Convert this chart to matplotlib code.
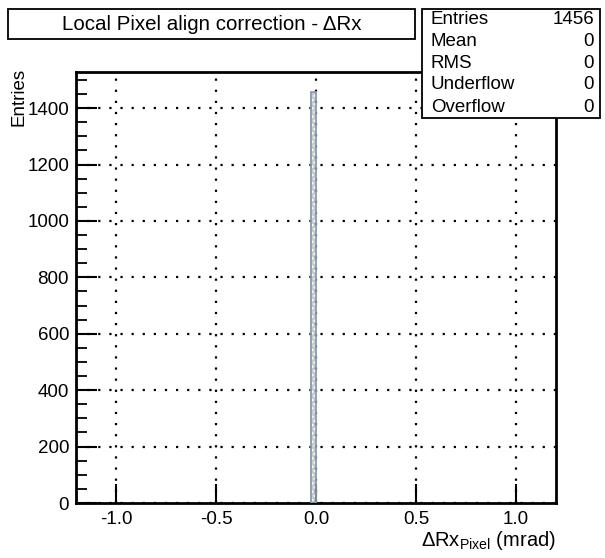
import numpy as np
import matplotlib
matplotlib.use('Agg')
import matplotlib.pyplot as plt
from matplotlib.patches import Rectangle
from matplotlib.ticker import MultipleLocator

plt.rcParams['font.family'] = ['Liberation Sans', 'DejaVu Sans']
plt.rcParams['mathtext.fontset'] = 'custom'
plt.rcParams['mathtext.rm'] = 'Liberation Sans'
plt.rcParams['mathtext.it'] = 'Liberation Sans:italic'

# histogram content (one filled bin)
bin_left = [-0.027]
bin_width = [0.027]
counts = [1456]

stats_labels = ['Entries', 'Mean', 'RMS', 'Underflow', 'Overflow']
stats_values = ['1456', '0', '0', '0', '0']

W, H = 605, 558
fig = plt.figure(figsize=(W / 100, H / 100), dpi=100)
ax = fig.add_axes([76 / W, 1 - 503 / H, (556 - 76) / W, (503 - 72) / H])

# fill with dotted pattern, then outline
ax.bar(bin_left, counts, width=bin_width, align='edge', color='#c3cbd3',
       hatch='....', edgecolor='white', linewidth=0, zorder=2)
ax.bar(bin_left, counts, width=bin_width, align='edge', fill=False,
       edgecolor='#8c9cab', linewidth=1.3, zorder=3)

ax.set_xlim(-1.2, 1.2)
ax.set_ylim(0, 1528)
ax.yaxis.set_major_locator(MultipleLocator(200))
ax.yaxis.set_minor_locator(MultipleLocator(50))
ax.set_xticks([-1.0, -0.5, 0.0, 0.5, 1.0])
ax.set_xticklabels(['-1.0', '-0.5', '0.0', '0.5', '1.0'])

ax.tick_params(axis='both', direction='in', labelsize=13.5, width=1.5)
ax.tick_params(axis='x', which='major', length=14, pad=6, top=False)
ax.tick_params(axis='y', which='major', length=15, pad=5, right=False)
ax.tick_params(axis='y', which='minor', length=8, width=1.3, direction='in')
ax.grid(True, which='major', color='black', linestyle=(0, (1, 4)), linewidth=1.6)
ax.set_axisbelow(False)
for s in ax.spines.values():
    s.set_linewidth(2)

# title box
fig.patches.append(Rectangle((8 / W, 1 - 39 / H), (415 - 8) / W, 30 / H,
                             transform=fig.transFigure, facecolor='white',
                             edgecolor='black', linewidth=1.3, zorder=5))
fig.text(211.5 / W, 1 - 24 / H, 'Local Pixel align correction - ΔRx',
         ha='center', va='center', fontsize=14.8, zorder=6)

# stats box
fig.patches.append(Rectangle((422 / W, 1 - 118 / H), (600 - 422) / W, 109 / H,
                             transform=fig.transFigure, facecolor='white',
                             edgecolor='black', linewidth=1.3, zorder=5))
for i, (lab, val) in enumerate(zip(stats_labels, stats_values)):
    yy = 1 - (19 + 22 * i) / H
    fig.text(431 / W, yy, lab, ha='left', va='center', fontsize=13.5, zorder=6)
    fig.text(594 / W, yy, val, ha='right', va='center', fontsize=13.5, zorder=6)

fig.text(19 / W, 1 - 68 / H, 'Entries', rotation=90, ha='center', va='top',
         fontsize=13.5)
fig.text(556 / W, 1 - 541 / H, r'$\Delta$Rx$_{\mathrm{Pixel}}$ (mrad)',
         ha='right', va='center', fontsize=14.5)

fig.savefig('out.png', dpi=100)
